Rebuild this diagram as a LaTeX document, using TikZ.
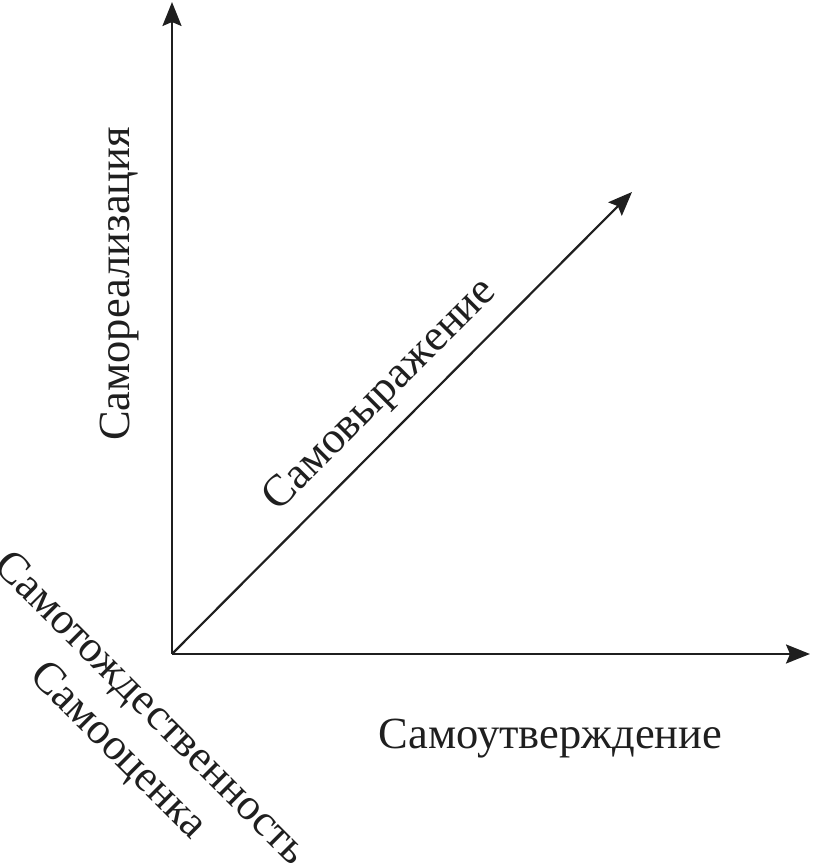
\documentclass[tikz,border=0pt]{standalone}
\usepackage{fontspec}
\setmainfont{Liberation Serif}
\usetikzlibrary{arrows.meta}
\begin{document}
\begin{tikzpicture}[x=1pt,y=1pt,
  axis/.style={line width=2.2pt,color=black!88,-{Stealth[length=24pt,width=19pt,inset=4pt]}},
  lbl/.style={font=\fontsize{44.5}{48}\selectfont,inner sep=0pt,anchor=base,text=black!88}]
\useasboundingbox (0,0) rectangle (823,867);
\coordinate (O) at (172,213);
\coordinate (Y) at (172,865);
\coordinate (X) at (810,213);
\coordinate (D) at (632,675);
\draw[axis] (O) -- (Y);
\draw[axis] (O) -- (X);
\draw[axis] (O) -- (D);
\node[lbl,rotate=90] (ly) at (129,583) {Самореализация};
\node[lbl] (lx) at (550.5,118) {Самоутверждение};
\node[lbl,rotate=45] (ld) at (388,464) {Самовыражение};
\node[lbl,rotate=-45] (lt) at (142,150) {Самотождественность};
\node[lbl,rotate=-45] (lo) at (110,108) {Самооценка};
\end{tikzpicture}
\end{document}
